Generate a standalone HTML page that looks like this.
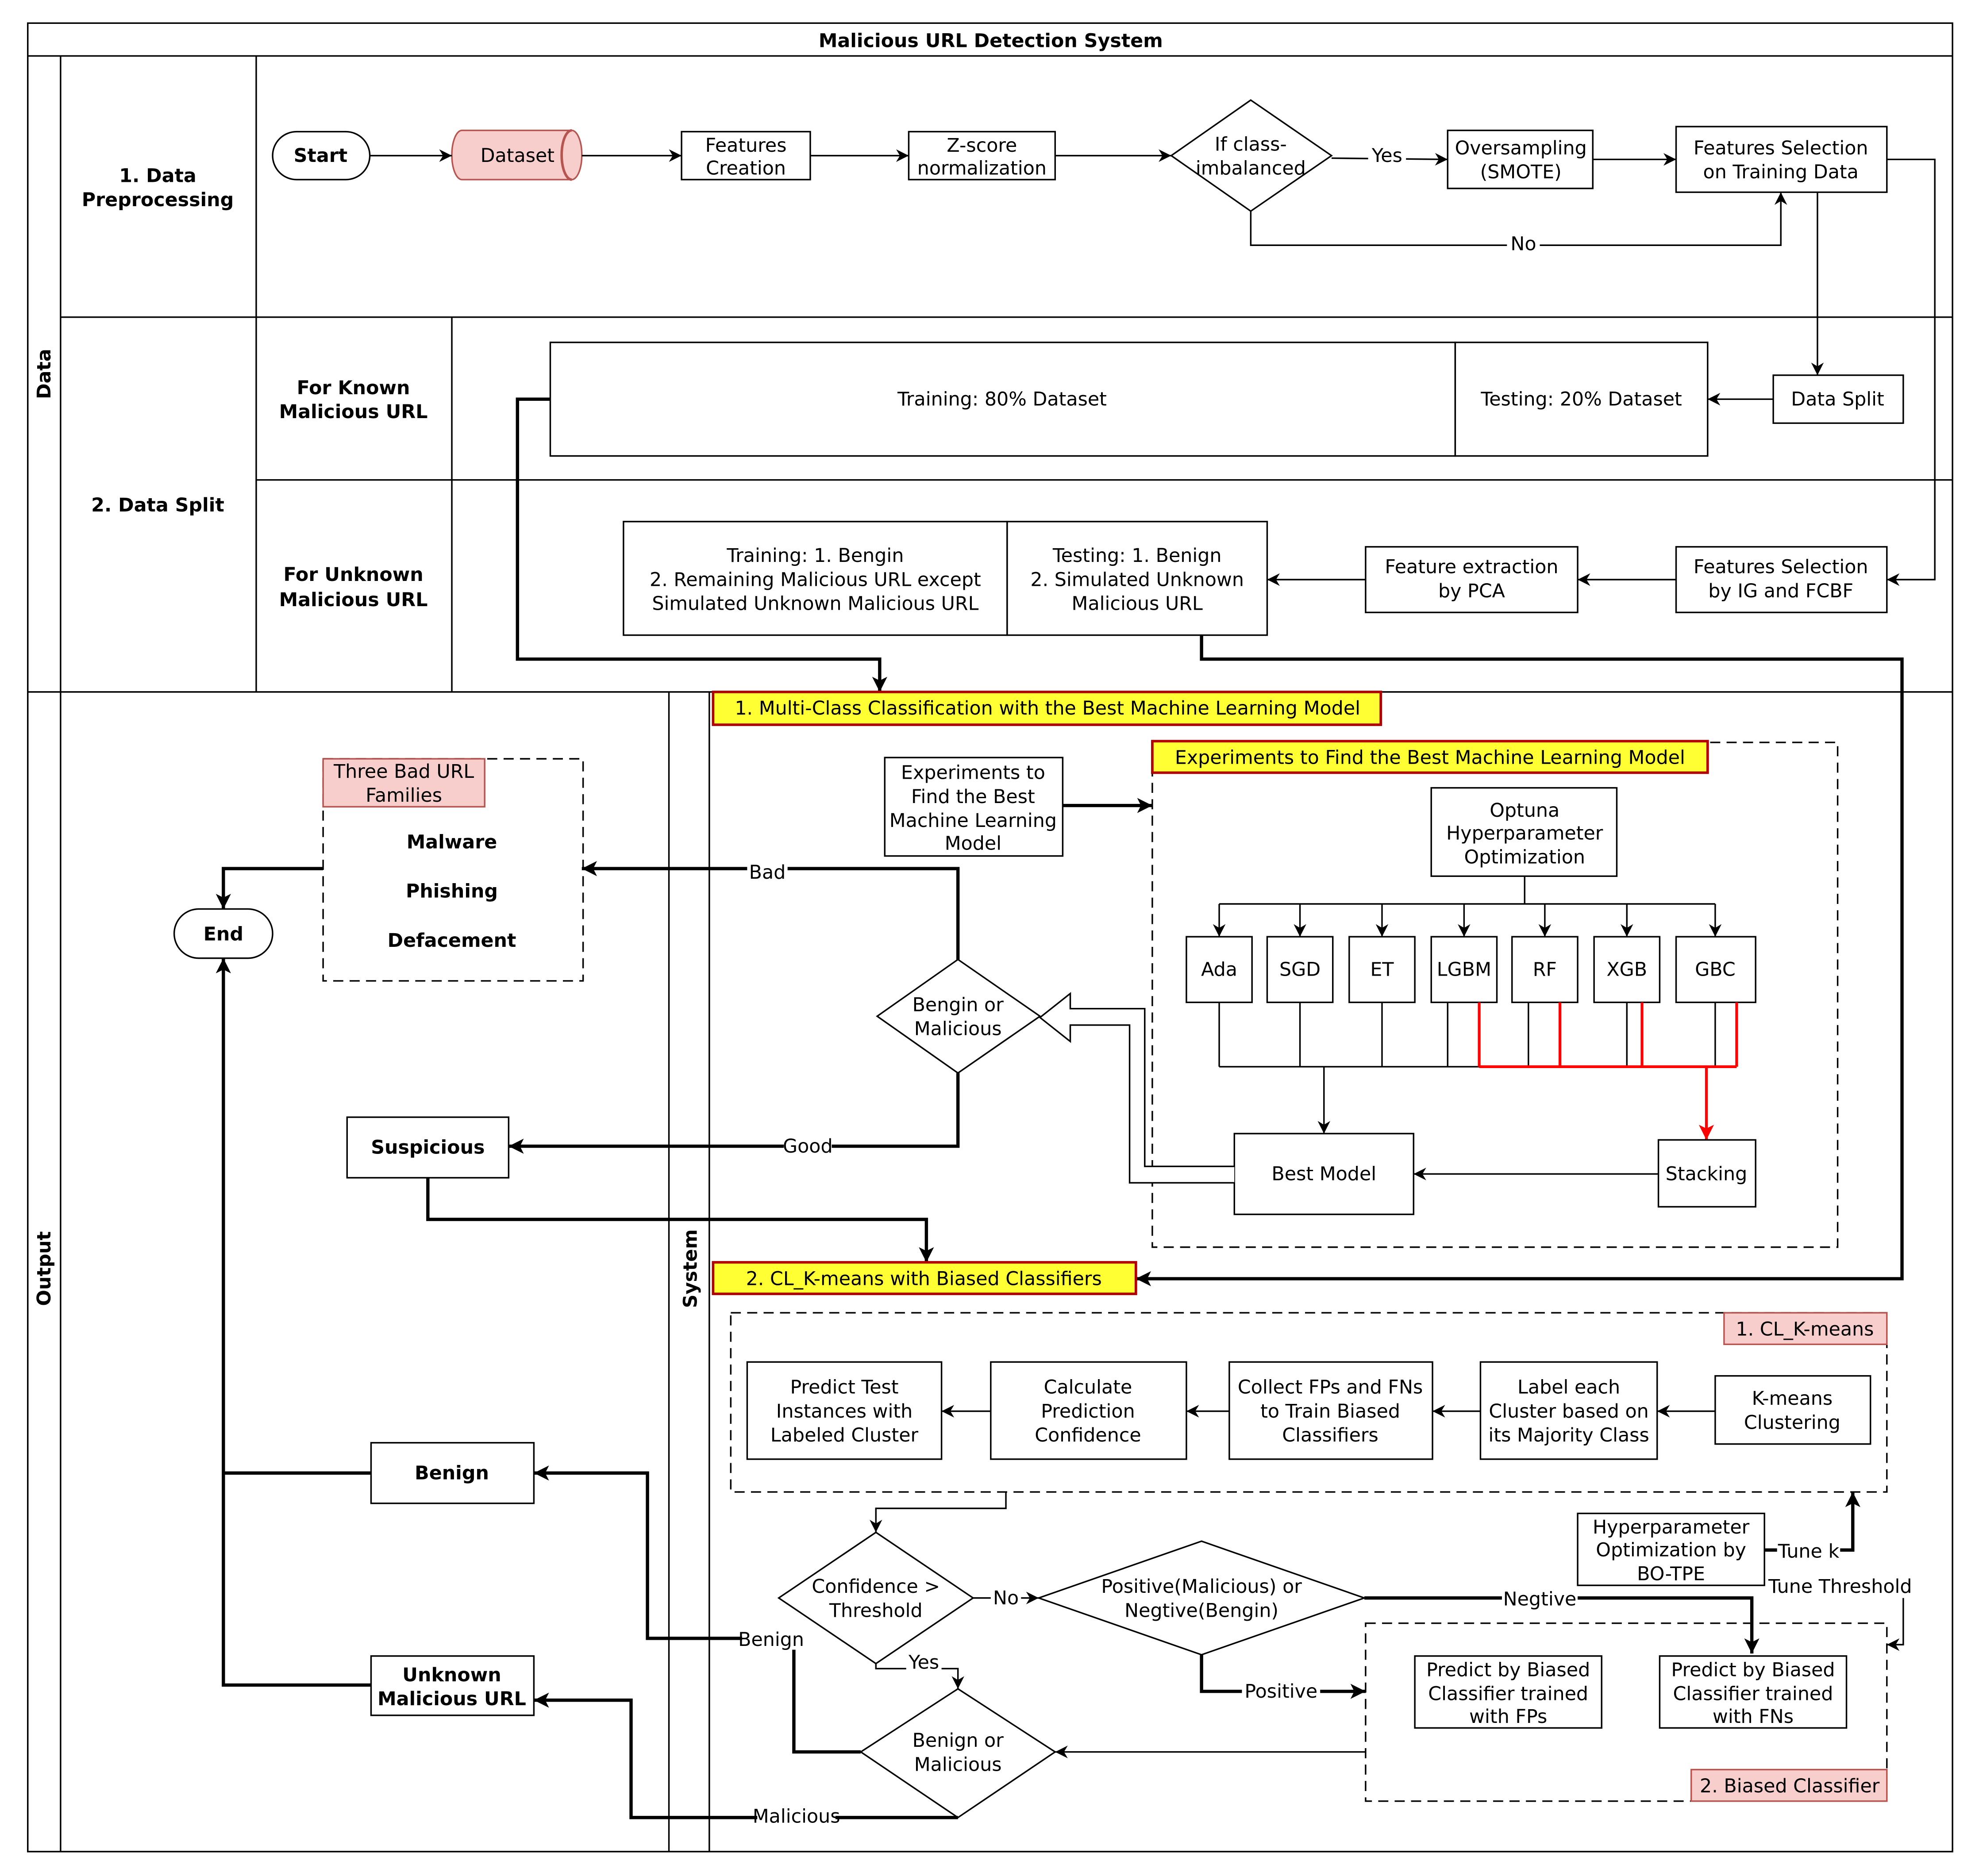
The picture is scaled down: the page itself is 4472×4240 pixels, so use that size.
<!DOCTYPE html>
<html><head><meta charset="utf-8"><style>
html,body{margin:0;padding:0;background:#fff}
svg{display:block}
text{font-family:"DejaVu Sans","Liberation Sans",sans-serif;font-size:15px;fill:#000}
.b{font-weight:bold}
.r{fill:#fff;stroke:#000;stroke-width:1.2}
.l{fill:none;stroke:#000;stroke-width:1.2}
.t{fill:none;stroke:#000;stroke-width:2.6}
.d{fill:none;stroke:#000;stroke-width:1.2;stroke-dasharray:8 5}
.y{fill:#ffff33;stroke:#b20000;stroke-width:2}
.p{fill:#f8cecc;stroke:#b85450;stroke-width:1.2}
.red{fill:none;stroke:#ff0000;stroke-width:2.2}
</style></head><body>
<svg width="4472" height="4240" viewBox="0 0 1568 1486" xmlns="http://www.w3.org/2000/svg">
<defs>
<marker id="a" markerUnits="userSpaceOnUse" markerWidth="12" markerHeight="12" refX="10" refY="5" orient="auto"><path d="M0,0 L10,5 L0,10 L3,5 Z" fill="#000"/></marker>
<marker id="at" markerUnits="userSpaceOnUse" markerWidth="14" markerHeight="14" refX="12" refY="6" orient="auto"><path d="M0,0 L12,6 L0,12 L3,6 Z" fill="#000"/></marker>
<marker id="ar" markerUnits="userSpaceOnUse" markerWidth="14" markerHeight="14" refX="12" refY="6" orient="auto"><path d="M0,0 L12,6 L0,12 L3,6 Z" fill="#f00"/></marker>
</defs>
<rect width="1568" height="1486" fill="#fff"/>
<!-- frame -->
<rect x="22" y="18" width="1525" height="1449" class="l" stroke-width="2"/>
<line x1="22" y1="44" x2="1547" y2="44" class="l" stroke-width="2"/>
<text x="785" y="37" text-anchor="middle" class="b" font-size="17">Malicious URL Detection System</text>
<line x1="48" y1="44" x2="48" y2="1467" class="l"/>
<line x1="22" y1="548" x2="1547" y2="548" class="l"/>
<line x1="203" y1="44" x2="203" y2="548" class="l"/>
<line x1="358" y1="251" x2="358" y2="548" class="l"/>
<line x1="48" y1="251" x2="1547" y2="251" class="l"/>
<line x1="203" y1="380" x2="1547" y2="380" class="l"/>
<line x1="530" y1="548" x2="530" y2="1467" class="l"/>
<line x1="562" y1="548" x2="562" y2="1467" class="l" stroke-width="2"/>
<text transform="translate(40,296) rotate(-90)" text-anchor="middle" class="b" font-size="14">Data</text>
<text transform="translate(40,1005) rotate(-90)" text-anchor="middle" class="b" font-size="14">Output</text>
<text transform="translate(552,1005) rotate(-90)" text-anchor="middle" class="b" font-size="16">System</text>
<text x="125" y="144" text-anchor="middle" class="b">1. Data</text>
<text x="125" y="163" text-anchor="middle" class="b">Preprocessing</text>
<text x="125" y="405" text-anchor="middle" class="b">2. Data Split</text>
<text x="280" y="312" text-anchor="middle" class="b">For Known</text>
<text x="280" y="331" text-anchor="middle" class="b">Malicious URL</text>
<text x="280" y="460" text-anchor="middle" class="b">For Unknown</text>
<text x="280" y="480" text-anchor="middle" class="b">Malicious URL</text>

<!-- row 1 -->
<rect x="216" y="104" width="77" height="38" rx="19" class="r" stroke-width="2"/>
<text x="254" y="128" text-anchor="middle" class="b">Start</text>
<path d="M366,103 L453,103 A8,19.5 0 0 1 453,142 L366,142 A8,19.5 0 0 1 366,103 Z" class="p" stroke-width="2"/>
<path d="M453,103 A8,19.5 0 0 0 453,142" fill="none" stroke="#b85450" stroke-width="2"/>
<text x="410" y="128" text-anchor="middle">Dataset</text>
<rect x="540" y="104" width="102" height="38" class="r"/>
<text x="591" y="120" text-anchor="middle">Features</text><text x="591" y="138" text-anchor="middle">Creation</text>
<rect x="720" y="104" width="116" height="38" class="r"/>
<text x="778" y="120" text-anchor="middle">Z-score</text><text x="778" y="138" text-anchor="middle">normalization</text>
<path d="M991,79 L1055,123 L991,167 L928,123 Z" class="r"/>
<text x="991" y="119" text-anchor="middle">If class-</text><text x="991" y="138" text-anchor="middle">imbalanced</text>
<rect x="1147" y="103" width="115" height="46" class="r"/>
<text x="1205" y="122" text-anchor="middle">Oversampling</text><text x="1205" y="141" text-anchor="middle">(SMOTE)</text>
<rect x="1328" y="100" width="167" height="52" class="r"/>
<text x="1411" y="122" text-anchor="middle">Features Selection</text><text x="1411" y="141" text-anchor="middle">on Training Data</text>
<line x1="293" y1="123" x2="358" y2="123" class="l" marker-end="url(#a)"/>
<line x1="461" y1="123" x2="540" y2="123" class="l" marker-end="url(#a)"/>
<line x1="642" y1="123" x2="720" y2="123" class="l" marker-end="url(#a)"/>
<line x1="836" y1="123" x2="928" y2="123" class="l" marker-end="url(#a)"/>
<line x1="1055" y1="125" x2="1147" y2="126" class="l" marker-end="url(#a)"/>
<rect x="1084" y="114" width="30" height="18" fill="#fff"/><text x="1099" y="128" text-anchor="middle">Yes</text>
<line x1="1262" y1="126" x2="1328" y2="126" class="l" marker-end="url(#a)"/>
<path d="M991,167 L991,194 L1411,194 L1411,152" class="l" marker-end="url(#a)"/>
<rect x="1194" y="184" width="26" height="18" fill="#fff"/><text x="1207" y="198" text-anchor="middle">No</text>
<line x1="1440" y1="152" x2="1440" y2="297" class="l" marker-end="url(#a)"/>
<path d="M1495,126 L1533,126 L1533,459 L1495,459" class="l" marker-end="url(#a)"/>

<!-- split -->
<rect x="436" y="271" width="717" height="90" class="r"/>
<rect x="1153" y="271" width="200" height="90" class="r"/>
<text x="794" y="321" text-anchor="middle">Training: 80% Dataset</text>
<text x="1253" y="321" text-anchor="middle">Testing: 20% Dataset</text>
<rect x="1405" y="297" width="103" height="38" class="r"/>
<text x="1456" y="321" text-anchor="middle">Data Split</text>
<line x1="1405" y1="316" x2="1353" y2="316" class="l" marker-end="url(#a)"/>
<rect x="494" y="413" width="304" height="90" class="r"/>
<rect x="798" y="413" width="206" height="90" class="r"/>
<text x="646" y="445" text-anchor="middle">Training: 1. Bengin</text>
<text x="646" y="464" text-anchor="middle">2. Remaining Malicious URL except</text>
<text x="646" y="483" text-anchor="middle">Simulated Unknown Malicious URL</text>
<text x="901" y="445" text-anchor="middle">Testing: 1. Benign</text>
<text x="901" y="464" text-anchor="middle">2. Simulated Unknown</text>
<text x="901" y="483" text-anchor="middle">Malicious URL</text>
<rect x="1082" y="433" width="168" height="52" class="r"/>
<text x="1166" y="454" text-anchor="middle">Feature extraction</text><text x="1166" y="473" text-anchor="middle">by PCA</text>
<rect x="1328" y="433" width="167" height="52" class="r"/>
<text x="1411" y="454" text-anchor="middle">Features Selection</text><text x="1411" y="473" text-anchor="middle">by IG and FCBF</text>
<line x1="1328" y1="459" x2="1250" y2="459" class="l" marker-end="url(#a)"/>
<line x1="1082" y1="459" x2="1004" y2="459" class="l" marker-end="url(#a)"/>
<path d="M436,316 L410,316 L410,522 L697,522 L697,548" class="t" marker-end="url(#at)"/>
<path d="M952,503 L952,522 L1507,522 L1507,1013 L900,1013" class="t" marker-end="url(#at)"/>

<!-- system part 1 -->
<rect x="565" y="548" width="529" height="26" class="y"/>
<text x="830" y="566" text-anchor="middle">1. Multi-Class Classification with the Best Machine Learning Model</text>
<rect x="913" y="588" width="543" height="400" class="d"/>
<rect x="913" y="587" width="440" height="25" class="y"/>
<text x="1133" y="605" text-anchor="middle">Experiments to Find the Best Machine Learning Model</text>
<rect x="701" y="600" width="141" height="78" class="r"/>
<text x="771" y="617" text-anchor="middle">Experiments to</text><text x="771" y="636" text-anchor="middle">Find the Best</text>
<text x="771" y="655" text-anchor="middle">Machine Learning</text><text x="771" y="673" text-anchor="middle">Model</text>
<line x1="842" y1="638" x2="913" y2="638" class="t" marker-end="url(#at)"/>
<rect x="1134" y="624" width="147" height="70" class="r"/>
<text x="1208" y="647" text-anchor="middle">Optuna</text><text x="1208" y="665" text-anchor="middle">Hyperparameter</text><text x="1208" y="684" text-anchor="middle">Optimization</text>
<line x1="1208" y1="694" x2="1208" y2="716" class="l"/>
<line x1="966" y1="716" x2="1359" y2="716" class="l"/>
<g class="l">
<line x1="966" y1="716" x2="966" y2="742" marker-end="url(#a)"/>
<line x1="1030" y1="716" x2="1030" y2="742" marker-end="url(#a)"/>
<line x1="1095" y1="716" x2="1095" y2="742" marker-end="url(#a)"/>
<line x1="1160" y1="716" x2="1160" y2="742" marker-end="url(#a)"/>
<line x1="1224" y1="716" x2="1224" y2="742" marker-end="url(#a)"/>
<line x1="1289" y1="716" x2="1289" y2="742" marker-end="url(#a)"/>
<line x1="1359" y1="716" x2="1359" y2="742" marker-end="url(#a)"/>
</g>
<rect x="940" y="742" width="52" height="52" class="r"/><text x="966" y="773" text-anchor="middle">Ada</text>
<rect x="1004" y="742" width="52" height="52" class="r"/><text x="1030" y="773" text-anchor="middle">SGD</text>
<rect x="1069" y="742" width="52" height="52" class="r"/><text x="1095" y="773" text-anchor="middle">ET</text>
<rect x="1134" y="742" width="52" height="52" class="r"/><text x="1160" y="773" text-anchor="middle">LGBM</text>
<rect x="1198" y="742" width="52" height="52" class="r"/><text x="1224" y="773" text-anchor="middle">RF</text>
<rect x="1263" y="742" width="52" height="52" class="r"/><text x="1289" y="773" text-anchor="middle">XGB</text>
<rect x="1328" y="742" width="63" height="52" class="r"/><text x="1359" y="773" text-anchor="middle">GBC</text>
<path d="M966,794 V845 M1030,794 V845 M1095,794 V845 M1147,794 V845 M1211,794 V845 M1289,794 V845 M1359,794 V845 M966,845 H1366" class="l"/>
<line x1="1049" y1="845" x2="1049" y2="898" class="l" marker-end="url(#a)"/>
<path d="M1172,794 V845 M1236,794 V845 M1301,794 V845 M1376,794 V845 M1172,845 H1376" class="red"/>
<line x1="1352" y1="845" x2="1352" y2="903" class="red" marker-end="url(#ar)"/>
<rect x="978" y="898" width="142" height="64" class="r"/><text x="1049" y="935" text-anchor="middle">Best Model</text>
<rect x="1314" y="903" width="77" height="53" class="r"/><text x="1352" y="935" text-anchor="middle">Stacking</text>
<line x1="1314" y1="930" x2="1120" y2="930" class="l" marker-end="url(#a)"/>
<path d="M978,924 L907,924 L907,799 L848,799 L848,787 L824,806 L848,825 L848,812 L895,812 L895,937 L978,937" fill="#fff" stroke="#000" stroke-width="1.2"/>
<path d="M759,760 L824,805 L759,850 L695,805 Z" class="r"/>
<text x="759" y="801" text-anchor="middle">Bengin or</text><text x="759" y="820" text-anchor="middle">Malicious</text>
<path d="M759,760 L759,688 L461,688" class="t" marker-end="url(#at)"/>
<rect x="592" y="682" width="32" height="18" fill="#fff"/><text x="608" y="696" text-anchor="middle">Bad</text>
<path d="M759,850 L759,908 L403,908" class="t" marker-end="url(#at)"/>
<rect x="621" y="900" width="38" height="17" fill="#fff"/><text x="640" y="913" text-anchor="middle">Good</text>

<!-- output -->
<rect x="256" y="601" width="206" height="176" class="d"/>
<rect x="256" y="601" width="128" height="38" class="p"/>
<text x="320" y="616" text-anchor="middle">Three Bad URL</text><text x="320" y="635" text-anchor="middle">Families</text>
<text x="358" y="672" text-anchor="middle" class="b" font-size="14">Malware</text>
<text x="358" y="711" text-anchor="middle" class="b" font-size="14">Phishing</text>
<text x="358" y="750" text-anchor="middle" class="b" font-size="14">Defacement</text>
<path d="M256,688 L177,688 L177,720" class="t" marker-end="url(#at)"/>
<rect x="138" y="720" width="78" height="39" rx="19.5" class="r" stroke-width="2"/>
<text x="177" y="745" text-anchor="middle" class="b">End</text>
<rect x="275" y="885" width="128" height="48" class="r"/><text x="339" y="914" text-anchor="middle" class="b">Suspicious</text>
<path d="M339,933 L339,966 L734,966 L734,1000" class="t" marker-end="url(#at)"/>
<rect x="294" y="1143" width="129" height="48" class="r"/><text x="358" y="1172" text-anchor="middle" class="b">Benign</text>
<rect x="294" y="1312" width="129" height="47" class="r"/>
<text x="358" y="1332" text-anchor="middle" class="b">Unknown</text><text x="358" y="1351" text-anchor="middle" class="b">Malicious URL</text>
<path d="M294,1167 L177,1167" class="t"/>
<path d="M294,1335 L177,1335 L177,759" class="t" marker-end="url(#at)"/>

<!-- system part 2 -->
<rect x="565" y="1000" width="335" height="25" class="y"/>
<text x="732" y="1018" text-anchor="middle">2. CL_K-means with Biased Classifiers</text>
<rect x="579" y="1040" width="916" height="142" class="d"/>
<rect x="1366" y="1040" width="129" height="25" class="p"/>
<text x="1430" y="1058" text-anchor="middle">1. CL_K-means</text>
<rect x="592" y="1079" width="154" height="77" class="r"/>
<text x="669" y="1104" text-anchor="middle">Predict Test</text><text x="669" y="1123" text-anchor="middle">Instances with</text><text x="669" y="1142" text-anchor="middle">Labeled Cluster</text>
<rect x="785" y="1079" width="155" height="77" class="r"/>
<text x="862" y="1104" text-anchor="middle">Calculate</text><text x="862" y="1123" text-anchor="middle">Prediction</text><text x="862" y="1142" text-anchor="middle">Confidence</text>
<rect x="974" y="1079" width="161" height="77" class="r"/>
<text x="1054" y="1104" text-anchor="middle">Collect FPs and FNs</text><text x="1054" y="1123" text-anchor="middle">to Train Biased</text><text x="1054" y="1142" text-anchor="middle">Classifiers</text>
<rect x="1173" y="1079" width="140" height="77" class="r"/>
<text x="1243" y="1104" text-anchor="middle">Label each</text><text x="1243" y="1123" text-anchor="middle">Cluster based on</text><text x="1243" y="1142" text-anchor="middle">its Majority Class</text>
<rect x="1359" y="1090" width="123" height="54" class="r"/>
<text x="1420" y="1113" text-anchor="middle">K-means</text><text x="1420" y="1132" text-anchor="middle">Clustering</text>
<line x1="1359" y1="1118" x2="1313" y2="1118" class="l" marker-end="url(#a)"/>
<line x1="1173" y1="1118" x2="1135" y2="1118" class="l" marker-end="url(#a)"/>
<line x1="974" y1="1118" x2="940" y2="1118" class="l" marker-end="url(#a)"/>
<line x1="785" y1="1118" x2="746" y2="1118" class="l" marker-end="url(#a)"/>
<rect x="1250" y="1199" width="148" height="57" class="r"/>
<text x="1324" y="1215" text-anchor="middle">Hyperparameter</text><text x="1324" y="1233" text-anchor="middle">Optimization by</text><text x="1324" y="1252" text-anchor="middle">BO-TPE</text>
<path d="M1398,1228 L1468,1228 L1468,1182" class="t" marker-end="url(#at)"/>
<rect x="1408" y="1220" width="50" height="17" fill="#fff"/><text x="1433" y="1234" text-anchor="middle">Tune k</text>
<path d="M1508,1266 L1508,1303 L1495,1303" class="l" marker-end="url(#a)"/>
<rect x="1400" y="1249" width="116" height="17" fill="#fff"/><text x="1458" y="1262" text-anchor="middle">Tune Threshold</text>
<path d="M797,1182 L797,1195 L694,1195 L694,1214" class="l" marker-end="url(#a)"/>
<path d="M694,1214 L771,1266 L694,1318 L617,1266 Z" class="r"/>
<text x="694" y="1262" text-anchor="middle">Confidence &gt;</text><text x="694" y="1281" text-anchor="middle">Threshold</text>
<line x1="771" y1="1266" x2="823" y2="1266" class="l" marker-end="url(#a)"/>
<rect x="785" y="1258" width="24" height="17" fill="#fff"/><text x="797" y="1271" text-anchor="middle">No</text>
<path d="M952,1221 L1081,1266 L952,1311 L823,1266 Z" class="r"/>
<text x="952" y="1262" text-anchor="middle">Positive(Malicious) or</text><text x="952" y="1281" text-anchor="middle">Negtive(Bengin)</text>
<path d="M1081,1266 L1388,1266 L1388,1310" class="t" marker-end="url(#at)"/>
<rect x="1190" y="1258" width="60" height="17" fill="#fff"/><text x="1220" y="1272" text-anchor="middle">Negtive</text>
<path d="M952,1311 L952,1340 L1082,1340" class="t" marker-end="url(#at)"/>
<rect x="984" y="1331" width="62" height="17" fill="#fff"/><text x="1015" y="1345" text-anchor="middle">Positive</text>
<rect x="1082" y="1286" width="413" height="141" class="d"/>
<rect x="1340" y="1402" width="155" height="25" class="p"/>
<text x="1418" y="1420" text-anchor="middle">2. Biased Classifier</text>
<rect x="1121" y="1312" width="148" height="57" class="r"/>
<text x="1195" y="1328" text-anchor="middle">Predict by Biased</text><text x="1195" y="1347" text-anchor="middle">Classifier trained</text><text x="1195" y="1365" text-anchor="middle">with FPs</text>
<rect x="1315" y="1312" width="148" height="57" class="r"/>
<text x="1389" y="1328" text-anchor="middle">Predict by Biased</text><text x="1389" y="1347" text-anchor="middle">Classifier trained</text><text x="1389" y="1365" text-anchor="middle">with FNs</text>
<line x1="1082" y1="1388" x2="836" y2="1388" class="l" marker-end="url(#a)"/>
<path d="M694,1318 L694,1322 L759,1322 L759,1338" class="l" marker-end="url(#a)"/>
<rect x="718" y="1310" width="28" height="16" fill="#fff"/><text x="732" y="1322" text-anchor="middle">Yes</text>
<path d="M759,1338 L836,1388 L759,1440 L682,1388 Z" class="r"/>
<text x="759" y="1384" text-anchor="middle">Benign or</text><text x="759" y="1403" text-anchor="middle">Malicious</text>
<path d="M682,1388 L629,1388 L629,1298 L513,1298 L513,1167 L423,1167" class="t" marker-end="url(#at)"/>
<rect x="588" y="1291" width="48" height="16" fill="#fff"/><text x="611" y="1304" text-anchor="middle" font-size="14">Benign</text>
<path d="M759,1440 L500,1440 L500,1347 L423,1347" class="t" marker-end="url(#at)"/>
<rect x="600" y="1431" width="62" height="16" fill="#fff"/><text x="631" y="1444" text-anchor="middle" font-size="14">Malicious</text>
</svg>
</body></html>
